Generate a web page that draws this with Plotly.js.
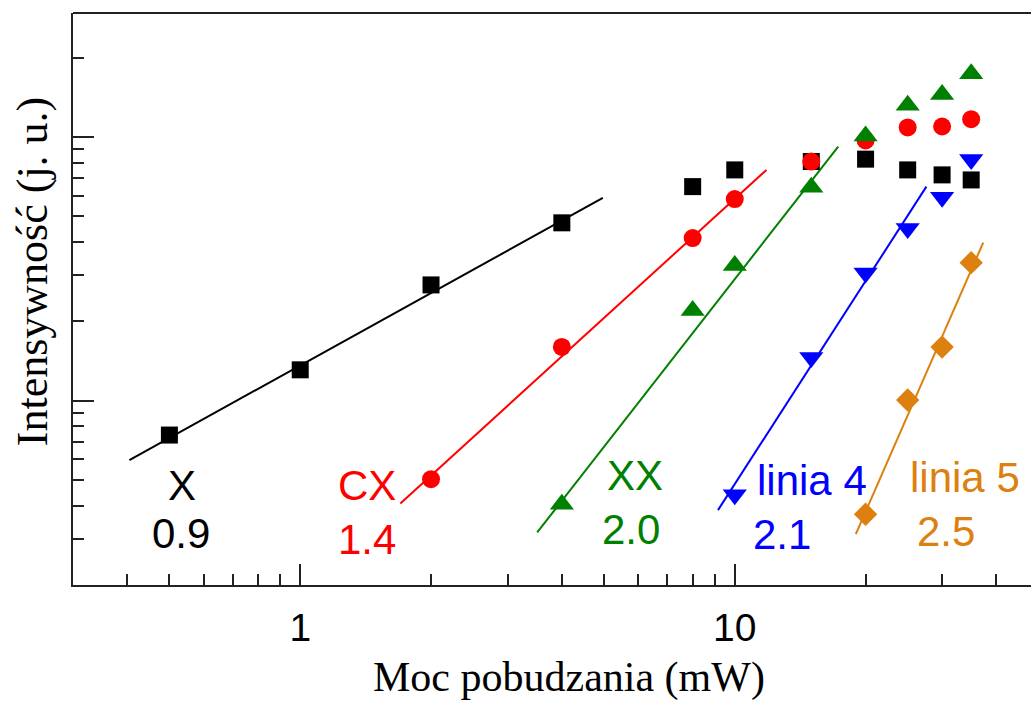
<!DOCTYPE html>
<html>
<head>
<meta charset="utf-8">
<script src="https://cdn.plot.ly/plotly-3.0.1.min.js"></script>
<style>html,body{margin:0;padding:0;background:#fff;overflow:hidden}</style>
</head>
<body>
<div id="chart" style="width:1031px;height:702px"></div>
<script>
// Excitation power (mW) and intensity (arb. units) for each line
const powerX  = [0.5, 1, 2, 4, 8, 10, 15, 20, 25, 30, 35];
const intX    = [0.741, 1.31, 2.75, 4.73, 6.49, 7.51, 8.08, 8.25, 7.51, 7.19, 6.88];
const powerCX = [2, 4, 8, 10, 15, 20, 25, 30, 35];
const intCX   = [0.504, 1.60, 4.14, 5.82, 8.08, 9.71, 10.88, 10.97, 11.7];
const powerXX = [4, 8, 10, 15, 20, 25, 30, 35];
const intXX   = [0.405, 2.2, 3.26, 6.45, 10.1, 13.2, 14.5, 17.4];
const powerL4 = [10, 15, 20, 25, 30, 35];
const intL4   = [0.44, 1.46, 3.05, 4.50, 5.92, 8.22];
const powerL5 = [20, 25, 30, 35];
const intL5   = [0.371, 1.006, 1.60, 3.34];

// Fitted power-law lines (endpoints)
const fitX_x  = [0.4045, 4.97],  fitX_y  = [0.5955, 5.88];
const fitCX_x = [1.70, 11.83],   fitCX_y = [0.4077, 7.51];
const fitXX_x = [3.51, 17.3],    fitXX_y = [0.3165, 9.21];
const fitL4_x = [9.15, 27.6],    fitL4_y = [0.3846, 6.49];
const fitL5_x = [18.99, 37.3],   fitL5_y = [0.312, 3.98];

// Labels: name and fitted exponent
const labelNames = ['X', 'CX', 'XX', 'linia 4', 'linia 5'];
const exponents  = ['0.9', '1.4', '2.0', '2.1', '2.5'];

// Tick values
const xMajor = [1, 10];
const xMajorText = ['1', '10'];
const xMinor = [0.4,0.5,0.6,0.7,0.8,0.9,2,3,4,5,6,7,8,9,20,30,40];
const yMajor = [1, 10];
const yMinor = [0.3,0.4,0.5,0.6,0.7,0.8,0.9,2,3,4,5,6,7,8,9,20];

const cBlack = '#000000', cRed = '#ff0000', cGreen = '#008000', cBlue = '#0000ff', cOrange = '#dc800f';

function line(x, y, c) {
  return {x: x, y: y, mode: 'lines', type: 'scatter', line: {color: c, width: 2}, hoverinfo: 'skip', showlegend: false};
}
function pts(x, y, c, sym, size) {
  return {x: x, y: y, mode: 'markers', type: 'scatter', marker: {color: c, symbol: sym, size: size, line: {width: 0}}, showlegend: false};
}

const data = [
  line(fitX_x, fitX_y, cBlack),
  line(fitCX_x, fitCX_y, cRed),
  line(fitXX_x, fitXX_y, cGreen),
  line(fitL4_x, fitL4_y, cBlue),
  line(fitL5_x, fitL5_y, cOrange),
  pts(powerX, intX, cBlack, 'square', 17),
  pts(powerCX, intCX, cRed, 'circle', 18),
  pts(powerXX, intXX, cGreen, 'triangle-up', 21),
  pts(powerL4, intL4, cBlue, 'triangle-down', 21),
  pts(powerL5, intL5, cOrange, 'diamond', 18)
];

// label placement (pixel centres converted to paper coords)
const L = 73.3, R = 1031, T = 13.3, B = 585;
function px(x) { return (x - L) / (R - L); }
function py(y) { return (B - y) / (B - T); }
const labelCols = [cBlack, cRed, cGreen, cBlue, cOrange];
const namePos = [[182.5, 486], [367, 486], [635, 476], [811.7, 481], [965, 477.5]];
const expPos  = [[181, 534], [367.5, 540], [631, 530], [782.5, 535], [945.8, 531.5]];
const annotations = [];
const lf = 'Liberation Sans, Arial, sans-serif';
for (let i = 0; i < labelNames.length; i++) {
  annotations.push({text: labelNames[i], xref: 'paper', yref: 'paper', x: px(namePos[i][0]), y: py(namePos[i][1]),
    xanchor: 'center', yanchor: 'middle', showarrow: false, font: {family: lf, size: 42, color: labelCols[i]}});
  annotations.push({text: exponents[i], xref: 'paper', yref: 'paper', x: px(expPos[i][0]), y: py(expPos[i][1]),
    xanchor: 'center', yanchor: 'middle', showarrow: false, font: {family: lf, size: 42, color: labelCols[i]}});
}
// axis titles (placed as in the reference, which is cropped on the right)
annotations.push({text: 'Moc pobudzania (mW)', xref: 'paper', yref: 'paper', x: px(569), y: py(677),
  xanchor: 'center', yanchor: 'middle', showarrow: false, font: {family: 'Liberation Serif, serif', size: 42, color: '#000'}});
annotations.push({text: 'Intensywność (j. u.)', xref: 'paper', yref: 'paper', x: px(33), y: py(271.7), textangle: -90,
  xanchor: 'center', yanchor: 'middle', showarrow: false, font: {family: 'Liberation Serif, serif', size: 44, color: '#000'}});

const axisCommon = {
  type: 'log', showgrid: false, zeroline: false, showline: true, linecolor: '#222', linewidth: 2,
  ticks: 'inside', ticklen: 21, tickwidth: 2, tickcolor: '#222', tickmode: 'array'
};

const layout = {
  width: 1031, height: 702,
  margin: {l: 73, r: 0, t: 13, b: 117, pad: 0},
  paper_bgcolor: '#fff', plot_bgcolor: '#fff',
  showlegend: false,
  xaxis: Object.assign({}, axisCommon, {
    range: [Math.log10(0.3), Math.log10(48.05)],
    tickvals: xMajor, ticktext: xMajorText,
    ticklabelposition: 'outside',
    ticklabelstandoff: 7,
    tickfont: {family: lf, size: 39, color: '#000'},
    minor: {tickmode: 'array', tickvals: xMinor, ticks: 'inside', ticklen: 11, tickwidth: 2, tickcolor: '#222', showgrid: false}
  }),
  yaxis: Object.assign({}, axisCommon, {
    range: [Math.log10(0.2), 1.4708],
    tickvals: yMajor, showticklabels: false,
    minor: {tickmode: 'array', tickvals: yMinor, ticks: 'inside', ticklen: 11, tickwidth: 2, tickcolor: '#222', showgrid: false}
  }),
  shapes: [{type: 'line', xref: 'paper', yref: 'paper', x0: 0, x1: 1, y0: 1, y1: 1, line: {color: '#222', width: 2}}],
  annotations: annotations
};

Plotly.newPlot('chart', data, layout, {displayModeBar: false, staticPlot: true});
</script>
</body>
</html>
